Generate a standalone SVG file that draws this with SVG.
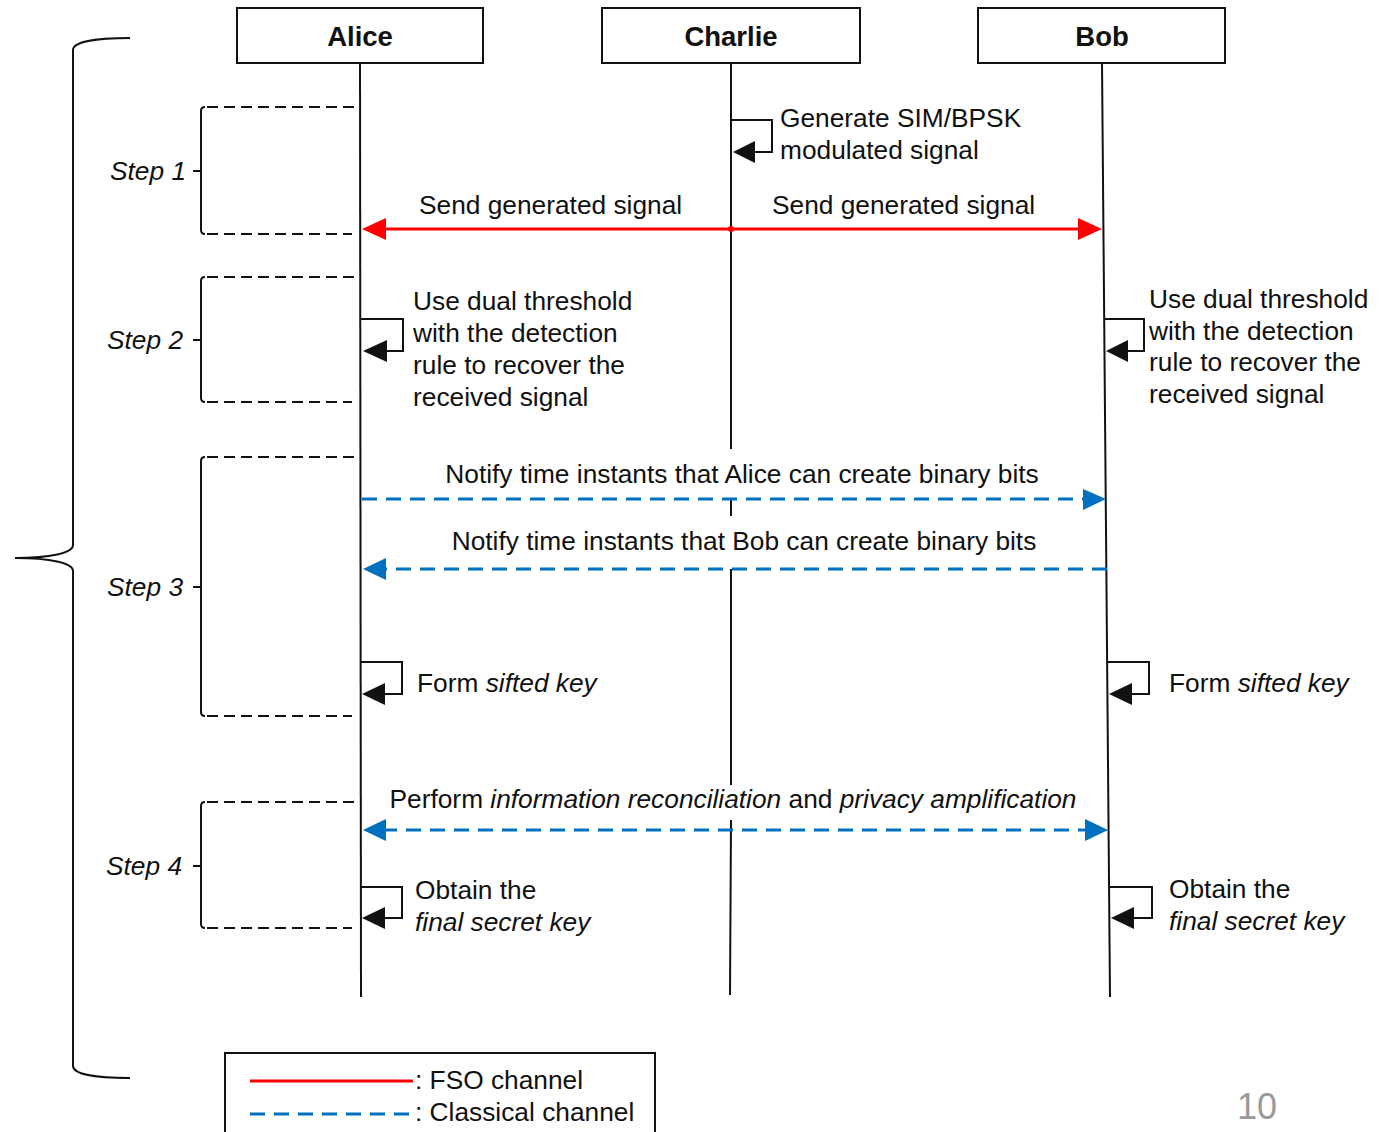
<svg xmlns="http://www.w3.org/2000/svg" width="1396" height="1132" viewBox="0 0 1396 1132">
<style>
text{font-family:"Liberation Sans",Arial,sans-serif;font-size:26.3px;fill:#111}
.b{font-weight:bold;font-size:27.5px}
.i{font-style:italic}
.box{fill:#fff;stroke:#111;stroke-width:2}
.life{stroke:#111;stroke-width:2;fill:none}
.dash{stroke:#111;stroke-width:2;stroke-dasharray:11 6;fill:none}
.solid{stroke:#111;stroke-width:2;fill:none}
.red{stroke:#f00;stroke-width:3;fill:none}
.blue{stroke:#0070c0;stroke-width:3;stroke-dasharray:15 9;fill:none}
.loop{stroke:#111;stroke-width:2;fill:none}
</style>
<rect width="1396" height="1132" fill="#fff"/>
<g id="brace"><path class="solid" d="M130,38 C95,38 73,42 73,50 L73,545 C73,553 50,558 15,558 C50,558 73,563 73,571 L73,1066 C73,1074 95,1078 130,1078"/></g>
<g id="alice"><rect class="box" x="237" y="8" width="246" height="55"/><text class="b" x="360" y="46" text-anchor="middle">Alice</text></g>
<g id="charlie"><rect class="box" x="602" y="8" width="258" height="55"/><text class="b" x="731" y="46" text-anchor="middle">Charlie</text></g>
<g id="bob"><rect class="box" x="978" y="8" width="247" height="55"/><text class="b" x="1102" y="46" text-anchor="middle">Bob</text></g>
<g id="lifelines">
<line class="life" x1="360" y1="63" x2="361" y2="997"/>
<line class="life" x1="731" y1="63" x2="731" y2="449"/>
<line class="life" x1="731" y1="499" x2="731" y2="516"/>
<line class="life" x1="731" y1="569" x2="731" y2="785"/>
<line class="life" x1="731" y1="820" x2="730" y2="995"/>
<line class="life" x1="1102" y1="63" x2="1110" y2="997"/>
</g>
<g id="steps">
<g id="step1"><path class="solid" d="M205,107 Q201,107 201,111 L201,230 Q201,234 205,234 M193,171 L201,171"/><path class="dash" d="M207,107 L355,107 M207,234 L352,234"/><text class="i" x="110" y="180">Step 1</text></g>
<g id="step2"><path class="solid" d="M205,277 Q201,277 201,281 L201,398 Q201,402 205,402 M193,340 L201,340"/><path class="dash" d="M207,277 L355,277 M207,402 L352,402"/><text class="i" x="107" y="349">Step 2</text></g>
<g id="step3"><path class="solid" d="M205,457 Q201,457 201,461 L201,712 Q201,716 205,716 M193,587 L201,587"/><path class="dash" d="M207,457 L355,457 M207,716 L352,716"/><text class="i" x="107" y="596">Step 3</text></g>
<g id="step4"><path class="solid" d="M205,802 Q201,802 201,806 L201,924 Q201,928 205,928 M193,866 L201,866"/><path class="dash" d="M207,802 L355,802 M207,928 L352,928"/><text class="i" x="106" y="875">Step 4</text></g>
</g>
<g id="connectors">
<path class="loop" d="M731,120 L772,120 L772,152 L750,152"/><polygon points="733,152 755,141 755,163" fill="#111"/>
<line class="red" x1="380" y1="229" x2="1084" y2="229"/>
<polygon points="362,229 386,218 386,240" fill="#f00"/>
<polygon points="1102,229 1078,218 1078,240" fill="#f00"/>
<circle cx="731" cy="229" r="3" fill="#f00"/>
<path class="loop" d="M361,319 L403,319 L403,351 L380,351"/><polygon points="363,351 387,340 387,362" fill="#111"/>
<path class="loop" d="M1104,319 L1144,319 L1144,351 L1122,351"/><polygon points="1106,351 1128,340 1128,362" fill="#111"/>
<line class="blue" x1="362" y1="499" x2="1086" y2="499"/>
<polygon points="1106,499 1083,489 1083,510" fill="#0070c0"/>
<line class="blue" x1="1107" y1="569" x2="382" y2="569"/>
<polygon points="363,569 386,558 386,580" fill="#0070c0"/>
<path class="loop" d="M361,662 L402,662 L402,694 L380,694"/><polygon points="362,694 385,683 385,705" fill="#111"/>
<path class="loop" d="M1107,662 L1149,662 L1149,694 L1127,694"/><polygon points="1109,694 1132,683 1132,705" fill="#111"/>
<line class="blue" x1="382" y1="830" x2="1088" y2="830"/>
<polygon points="363,830 386,819 386,841" fill="#0070c0"/>
<polygon points="1108,830 1085,819 1085,841" fill="#0070c0"/>
<path class="loop" d="M361,887 L402,887 L402,918 L380,918"/><polygon points="362,918 385,907 385,929" fill="#111"/>
<path class="loop" d="M1109,887 L1152,887 L1152,918 L1130,918"/><polygon points="1111,918 1134,907 1134,929" fill="#111"/>
</g>
<g id="labels">
<text x="780" y="127">Generate SIM/BPSK</text>
<text x="780" y="159">modulated  signal</text>
<text x="419" y="214">Send generated signal</text>
<text x="772" y="214">Send generated signal</text>
<text x="413" y="310">Use dual threshold</text>
<text x="413" y="342">with the detection</text>
<text x="413" y="374">rule to recover the</text>
<text x="413" y="406">received signal</text>
<text x="1149" y="308">Use dual threshold</text>
<text x="1149" y="340">with the detection</text>
<text x="1149" y="371">rule to recover the</text>
<text x="1149" y="403">received signal</text>
<text x="742" y="483" text-anchor="middle">Notify time instants that Alice can create binary bits</text>
<text x="744" y="550" text-anchor="middle">Notify time instants that Bob can create binary bits</text>
<text x="417" y="692">Form <tspan class="i">sifted key</tspan></text>
<text x="1169" y="692">Form <tspan class="i">sifted key</tspan></text>
<text x="733" y="808" text-anchor="middle">Perform <tspan class="i">information reconciliation</tspan> and <tspan class="i">privacy amplification</tspan></text>
<text x="415" y="899">Obtain the</text>
<text x="415" y="931" class="i">final secret key</text>
<text x="1169" y="898">Obtain the</text>
<text x="1169" y="930" class="i">final secret key</text>
</g>
<g id="legend">
<rect class="box" x="225" y="1053" width="430" height="90"/>
<line x1="250" y1="1081" x2="413" y2="1081" stroke="#f00" stroke-width="3"/>
<line class="blue" x1="250" y1="1114" x2="413" y2="1114"/>
<text x="415" y="1089">: FSO channel</text>
<text x="415" y="1121">: Classical channel</text>
</g>
<text x="1257" y="1119" text-anchor="middle" style="font-size:36px;fill:#9a9a9a">10</text>
</svg>
